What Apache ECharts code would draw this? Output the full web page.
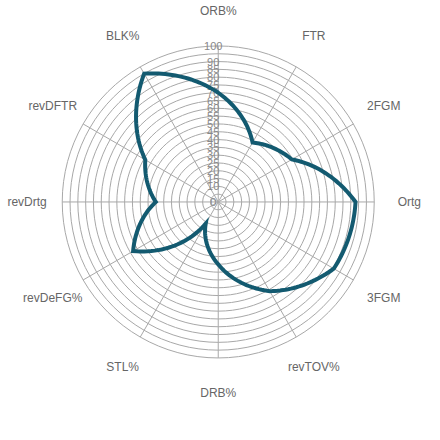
<!DOCTYPE html>
<html>
<head>
<meta charset="utf-8">
<script src="https://cdn.jsdelivr.net/npm/echarts@6/dist/echarts.min.js"></script>
<style>
  html, body { margin: 0; padding: 0; background: #fff; }
  #chart { width: 440px; height: 440px; }
</style>
</head>
<body>
<div id="chart"></div>
<script>
const categories = ['ORB%', 'FTR', '2FGM', 'Ortg', '3FGM', 'revTOV%', 'DRB%', 'STL%', 'revDeFG%', 'revDrtg', 'revDFTR', 'BLK%'];
const values = [70, 44, 54.5, 88, 85.5, 66, 40, 16, 63, 40, 54, 95];
const radiusTicks = { min: 0, max: 100, step: 5 };

const chart = echarts.init(document.getElementById('chart'), null, { renderer: 'svg' });

const center = ['49.6%', '45.9%'];
const radius = 156;
// label ring sits a bit outside the 100 circle
const labelRadius = 122.5;
const steps = 24;

function renderItem(params, api) {
    const i = params.dataIndex;
    const children = [];
    // category name
    const lp = api.coord([labelRadius, i]);
    children.push({
        type: 'text',
        style: {
            x: lp[0], y: lp[1],
            text: categories[i],
            align: 'center', verticalAlign: 'middle',
            fill: '#666', font: '12px "Liberation Sans", Arial, sans-serif'
        }
    });
    // the line itself, interpolated in polar space so edges curve like the original
    if (i === 0) {
        const pts = [];
        const n = values.length;
        for (let k = 0; k < n; k++) {
            const a = values[k];
            const b = values[(k + 1) % n];
            for (let s = 0; s < steps; s++) {
                const t = s / steps;
                pts.push(api.coord([a + (b - a) * t, k + t]));
            }
        }
        children.push({
            type: 'polygon',
            shape: { points: pts },
            style: { fill: 'none', stroke: '#135a70', lineWidth: 4, lineJoin: 'miter' }
        });
    }
    return { type: 'group', children: children };
}

const option = {
    animation: false,
    polar: {
        center: center,
        radius: radius
    },
    angleAxis: {
        type: 'value',
        min: 0,
        max: categories.length,
        interval: 1,
        startAngle: 90,
        clockwise: true,
        axisLine: { show: false },
        axisTick: { show: false },
        axisLabel: { show: false },
        splitLine: { show: true, lineStyle: { color: '#a8a8a8', width: 1 } }
    },
    radiusAxis: {
        type: 'value',
        min: radiusTicks.min,
        max: radiusTicks.max,
        interval: radiusTicks.step,
        axisLine: { show: false },
        axisTick: { show: false },
        axisLabel: {
            show: true,
            showMinLabel: true,
            showMaxLabel: true,
            align: 'center',
            verticalAlign: 'middle',
            margin: 5,
            color: '#888',
            fontSize: 11,
            fontFamily: '"Liberation Sans", Arial, sans-serif'
        },
        splitLine: { show: true, lineStyle: { color: '#a8a8a8', width: 1 } }
    },
    series: [
        {
            type: 'custom',
            coordinateSystem: 'polar',
            data: values.map((v, i) => [v, i]),
            renderItem: renderItem
        }
    ]
};

chart.setOption(option);
</script>
</body>
</html>
